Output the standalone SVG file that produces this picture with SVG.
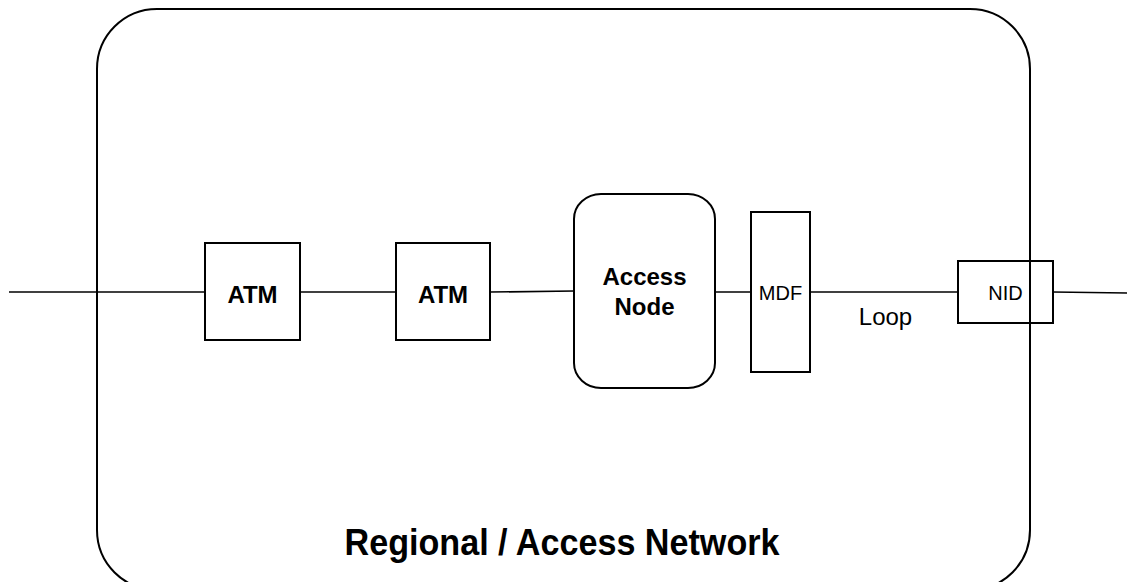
<svg xmlns="http://www.w3.org/2000/svg" width="1135" height="582" viewBox="0 0 1135 582">
<style>
.box{fill:none;stroke:#000;stroke-width:2}
.ln{fill:none;stroke:#000;stroke-width:1.7}
.b{font-family:"Liberation Sans",Arial,sans-serif;font-weight:bold;font-size:24px;text-anchor:middle;fill:#000}
.n{font-family:"Liberation Sans",Arial,sans-serif;font-size:20px;text-anchor:middle;fill:#000}
</style>
<rect width="1135" height="582" fill="#fff"/>
<g id="network">
<rect class="box" x="97" y="9" width="933" height="581" rx="60" ry="60"/>
<text class="b" x="562" y="555" textLength="435" lengthAdjust="spacingAndGlyphs" style="font-size:36px">Regional / Access Network</text>
</g>
<g id="connectors">
<line class="ln" x1="9" y1="292" x2="205" y2="292"/>
<line class="ln" x1="300" y1="292" x2="396" y2="292"/>
<line class="ln" x1="490" y1="292" x2="574" y2="291"/>
<line class="ln" x1="715" y1="292" x2="751" y2="292"/>
<line class="ln" x1="810" y1="292" x2="958" y2="292"/>
<line class="ln" x1="1053" y1="292" x2="1127" y2="293"/>
</g>
<g id="atm1">
<rect class="box" x="205" y="243" width="95" height="97"/>
<text class="b" x="252.5" y="303">ATM</text>
</g>
<g id="atm2">
<rect class="box" x="396" y="243" width="94" height="97"/>
<text class="b" x="443" y="303">ATM</text>
</g>
<g id="access-node">
<rect class="box" x="574" y="194" width="141" height="194" rx="27" ry="25"/>
<text class="b" x="644.5" y="285">Access</text>
<text class="b" x="644.5" y="315">Node</text>
</g>
<g id="mdf">
<rect class="box" x="751" y="212" width="59" height="160"/>
<text class="n" x="780.5" y="300">MDF</text>
</g>
<g id="loop-label">
<text class="n" x="885.5" y="325" style="font-size:24px">Loop</text>
</g>
<g id="nid">
<rect class="box" x="958" y="261" width="95" height="62"/>
<text class="n" x="1005.5" y="300">NID</text>
</g>
</svg>
